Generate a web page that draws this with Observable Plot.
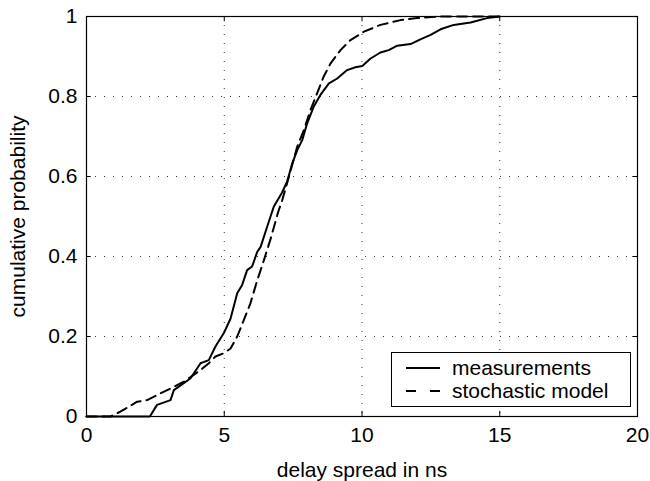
<!DOCTYPE html>
<html>
<head>
<meta charset="utf-8">
<script src="https://cdn.jsdelivr.net/npm/d3@7"></script>
<script src="https://cdn.jsdelivr.net/npm/@observablehq/plot@0.6"></script>
<style>
  html, body { margin: 0; padding: 0; background: #fff; }
  #wrap { position: relative; width: 650px; height: 481px; font-family: "Liberation Sans", Arial, Helvetica, sans-serif; }
  #wrap svg text { font-size: 21px; }
  #legend { position: absolute; left: 391px; top: 352px; width: 240px; height: 55px; border: 1px solid #000; background: #fff; box-sizing: border-box; font-size: 21px; }
  .row { position: absolute; left: 0; height: 24px; display: flex; align-items: center; }
  .row svg { margin-left: 14px; margin-right: 12px; }
</style>
</head>
<body>
<div id="wrap"></div>
<script>
const measX = [0, 2.3, 2.56, 3.05, 3.17, 3.77, 4.14, 4.44, 4.68, 4.98, 5.23, 5.47, 5.65, 5.83, 6.01, 6.2, 6.32, 6.56, 6.8, 7.1, 7.28, 7.47, 7.65, 7.83, 8.01, 8.25, 8.49, 8.8, 9.1, 9.46, 9.76, 10.01, 10.31, 10.67, 10.97, 11.28, 11.76, 12.12, 12.49, 12.85, 13.33, 13.94, 14.54, 15];
const measY = [0, 0, 0.029, 0.041, 0.066, 0.095, 0.133, 0.141, 0.175, 0.208, 0.245, 0.308, 0.329, 0.366, 0.375, 0.412, 0.424, 0.475, 0.525, 0.56, 0.587, 0.633, 0.666, 0.691, 0.733, 0.775, 0.804, 0.833, 0.845, 0.866, 0.873, 0.876, 0.895, 0.91, 0.916, 0.927, 0.931, 0.943, 0.954, 0.968, 0.979, 0.985, 0.996, 1];
const modelX = [0, 0.87, 1.23, 1.84, 2.2, 2.69, 3.05, 3.53, 3.89, 4.14, 4.44, 4.68, 4.98, 5.23, 5.47, 5.71, 5.95, 6.2, 6.44, 6.7, 6.95, 7.1, 7.28, 7.65, 7.89, 8.13, 8.37, 8.61, 8.86, 9.22, 9.58, 10.07, 10.67, 11.4, 12.0, 12.85, 15];
const modelY = [0, 0, 0.012, 0.037, 0.041, 0.058, 0.07, 0.087, 0.104, 0.116, 0.133, 0.15, 0.158, 0.17, 0.2, 0.241, 0.283, 0.341, 0.391, 0.448, 0.51, 0.54, 0.583, 0.675, 0.716, 0.766, 0.808, 0.85, 0.883, 0.916, 0.941, 0.962, 0.979, 0.991, 0.996, 1, 1];
const xTicks = [0, 5, 10, 15, 20];
const yTicks = [0, 0.2, 0.4, 0.6, 0.8, 1];
const xTickLabels = ["0", "5", "10", "15", "20"];
const yTickLabels = ["0", "0.2", "0.4", "0.6", "0.8", "1"];
const seriesNames = ["measurements", "stochastic model"];
const xLabel = "delay spread in ns";
const yLabel = "cumulative probability";

const meas = measX.map((x, i) => ({x, y: measY[i]}));
const model = modelX.map((x, i) => ({x, y: modelY[i]}));
const innerX = xTicks.slice(1, -1);
const innerY = yTicks.slice(1, -1);

const chart = Plot.plot({
  width: 650,
  height: 481,
  marginLeft: 86,
  marginRight: 13,
  marginTop: 16,
  marginBottom: 65,
  style: {fontFamily: '"Liberation Sans", Arial, Helvetica, sans-serif', fontSize: "21px", color: "#000", background: "#fff"},
  x: {domain: [0, 20]},
  y: {domain: [0, 1]},
  marks: [
    Plot.gridX(innerX, {stroke: "#000", strokeOpacity: 0.8, strokeDasharray: "1,8"}),
    Plot.gridY(innerY, {stroke: "#000", strokeOpacity: 0.8, strokeDasharray: "1,8"}),
    Plot.ruleX(innerX, {y1: 0, y2: 0.013, stroke: "#000"}),
    Plot.ruleX(innerX, {y1: 0.987, y2: 1, stroke: "#000"}),
    Plot.ruleY(innerY, {x1: 0, x2: 0.17, stroke: "#000"}),
    Plot.ruleY(innerY, {x1: 19.83, x2: 20, stroke: "#000"}),
    Plot.line(model, {x: "x", y: "y", stroke: "#000", strokeWidth: 2, strokeDasharray: "10,6", curve: "linear"}),
    Plot.line(meas, {x: "x", y: "y", stroke: "#000", strokeWidth: 2, curve: "linear"}),
    Plot.frame({stroke: "#000", strokeWidth: 1.2}),
    Plot.axisX(xTicks, {tickSize: 0, tickPadding: 11, tickFormat: (d, i) => xTickLabels[i], label: xLabel, labelAnchor: "center", labelArrow: "none", labelOffset: 60, fontSize: 21}),
    Plot.axisY(yTicks, {tickSize: 0, tickPadding: 9, tickFormat: (d, i) => yTickLabels[i], label: yLabel, labelAnchor: "center", labelArrow: "none", labelOffset: 76, fontSize: 21})
  ]
});
const wrap = document.getElementById("wrap");
wrap.appendChild(chart);

const legend = document.createElement("div");
legend.id = "legend";
seriesNames.forEach((name, i) => {
  const row = document.createElement("div");
  row.className = "row";
  row.style.top = (i === 0 ? 3 : 26) + "px";
  const ns = "http://www.w3.org/2000/svg";
  const s = document.createElementNS(ns, "svg");
  s.setAttribute("width", 34); s.setAttribute("height", 4);
  const l = document.createElementNS(ns, "line");
  l.setAttribute("x1", 0); l.setAttribute("x2", 34); l.setAttribute("y1", 2); l.setAttribute("y2", 2);
  l.setAttribute("stroke", "#000"); l.setAttribute("stroke-width", 2);
  if (i === 1) l.setAttribute("stroke-dasharray", "10,14");
  s.appendChild(l);
  row.appendChild(s);
  const t = document.createElement("span");
  t.textContent = name;
  row.appendChild(t);
  legend.appendChild(row);
});
wrap.appendChild(legend);
</script>
</body>
</html>
